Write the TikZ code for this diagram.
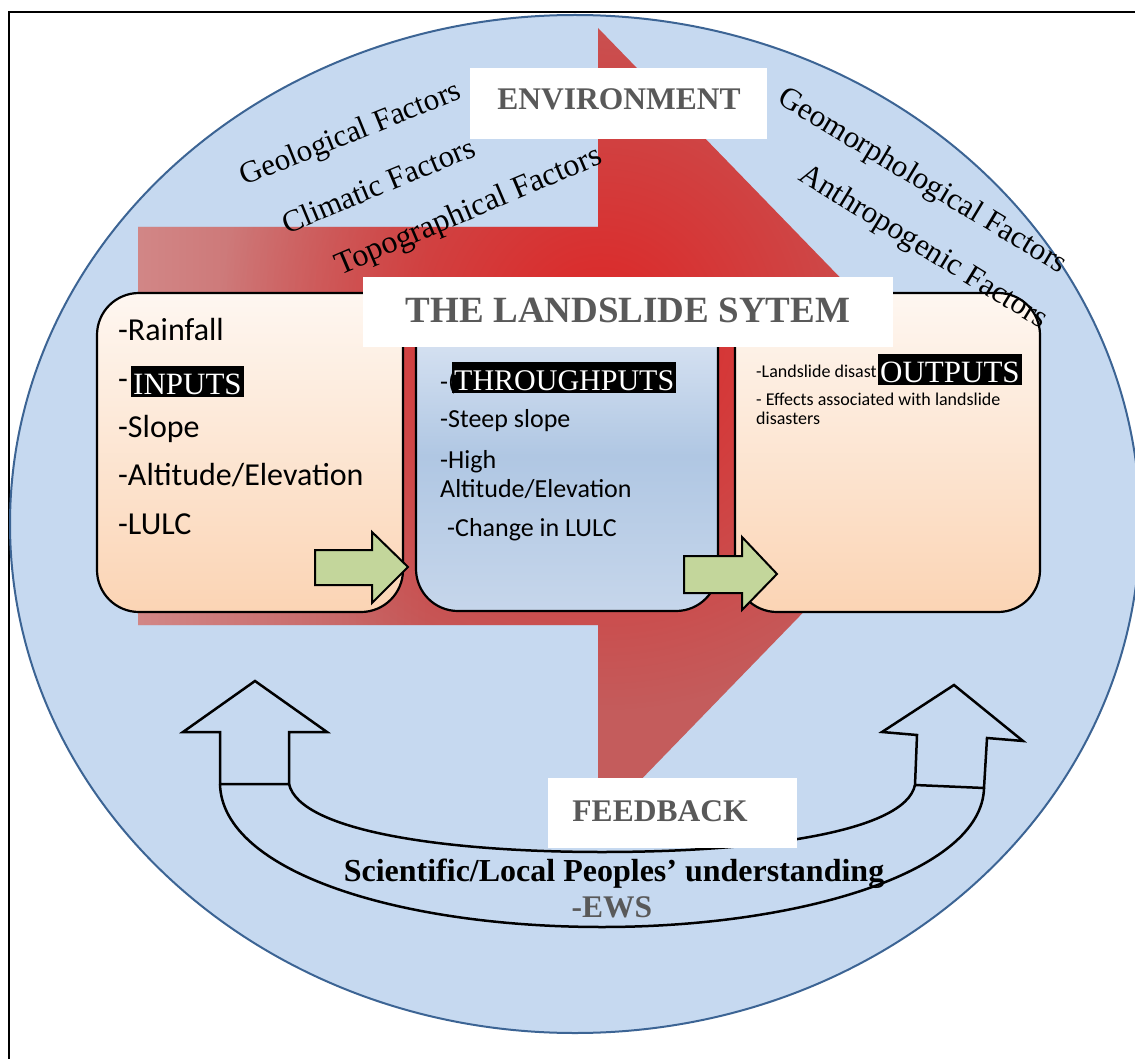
\documentclass[tikz,border=0pt]{standalone}
\usepackage{fontspec}
\setmainfont{Liberation Serif}
\newfontfamily\bodysans{Carlito}
\usetikzlibrary{fadings}

\definecolor{envblue}{RGB}{198,217,240}
\definecolor{envedge}{RGB}{60,100,148}
\definecolor{redbase}{RGB}{196,92,92}
\definecolor{redglow}{RGB}{222,38,38}
\definecolor{redpale}{RGB}{210,135,135}
\definecolor{headgray}{RGB}{89,89,89}
\definecolor{arrowgreen}{RGB}{195,214,155}
\definecolor{peachtop}{RGB}{254,247,241}
\definecolor{peachbot}{RGB}{251,212,180}
\definecolor{bluetop}{RGB}{226,234,246}
\definecolor{bluemid}{RGB}{176,199,227}
\definecolor{bluebot}{RGB}{198,214,235}

\tikzfading[name=fadeglow, inner color=transparent!0, outer color=transparent!100]
\tikzfading[name=fadetoright, left color=transparent!0, right color=transparent!100]

\tikzset{
  panel/.style={draw=black, line width=2.2pt, rounded corners=42pt, inner sep=0pt},
  whitebox/.style={fill=white, inner sep=0pt},
  heading/.style={font=\fontsize{31.5}{32}\selectfont\bfseries, text=headgray, inner sep=0pt},
  factor/.style={font=\fontsize{31}{31}\selectfont, inner sep=0pt},
  inbody/.style={font=\bodysans\fontsize{32}{32}\selectfont, inner sep=0pt, anchor=base west},
  midbody/.style={font=\bodysans\fontsize{26}{26}\selectfont, inner sep=0pt, anchor=base west},
  outbody/.style={font=\bodysans\fontsize{18}{18}\selectfont, inner sep=0pt, anchor=base west},
  tagbox/.style={fill=black, text=white, inner xsep=2pt, inner ysep=0pt,
                 text height=28pt, text depth=3pt, anchor=base west},
  greenarrow/.style={fill=arrowgreen, draw=black, line width=2pt, line join=miter},
  uparrow/.style={fill=envblue, draw=black, line width=2.5pt, line join=miter},
  loopline/.style={draw=black, line width=2.5pt}
}

\begin{document}
\begin{tikzpicture}[x=1pt,y=-1pt]
\useasboundingbox (0,0) rectangle (1135,1059);
\clip (0,0) rectangle (1135,1059);
\fill[white] (0,0) rectangle (1135,1059);

% outer frame
\draw[line width=2pt] (9,1070) -- (9,12) -- (1150,12);

% environment ellipse
\draw[fill=envblue, draw=envedge, line width=2pt] (575,524) ellipse [x radius=565, y radius=509];

% large system arrow
\def\systemarrow{(138,227) -- (598,227) -- (598,28) -- (984,426) -- (598,824) -- (598,625) -- (138,625) -- cycle}
\fill[redbase] \systemarrow;
\begin{scope}
  \clip \systemarrow;
  \fill[redpale, path fading=fadetoright] (138,227) rectangle (430,625);
  \fill[redglow, path fading=fadeglow] (600,330) circle (380);
\end{scope}

% the three stages
\node[panel, top color=peachtop, bottom color=peachbot, minimum width=306pt, minimum height=319pt] (inbox) at (250,452.5) {};
\node[panel, top color=bluetop, bottom color=bluebot, middle color=bluemid, minimum width=302pt, minimum height=311pt] (midbox) at (567,455.5) {};
\node[panel, top color=peachtop, bottom color=peachbot, minimum width=305pt, minimum height=319pt] (outbox) at (887.5,452.5) {};

% stage contents
\node[inbody] (rain) at (118,340) {-Rainfall};
\node[inbody] (indash) at (118,389) {-};
\node[tagbox, font=\fontsize{31}{31}\selectfont] (inputs) at (131,394) {INPUTS};
\node[inbody] (slope) at (118,437) {-Slope};
\node[inbody] (alt) at (118,485) {-Altitude/Elevation};
\node[inbody] (lulc) at (118,534) {-LULC};

\node[midbody] (middash) at (440,390) {-(};
\node[tagbox, font=\fontsize{30}{30}\selectfont] (throughputs) at (452,390) {THROUGHPUTS};
\node[midbody] (steep) at (440,427) {-Steep slope};
\node[midbody] (high) at (440,468) {-High};
\node[midbody] (alt2) at (440,497) {Altitude/Elevation};
\node[midbody] (lulc2) at (447,536) {-Change in LULC};

\node[outbody] (ldis) at (756,377) {-Landslide disast};
\node[tagbox, font=\fontsize{31}{31}\selectfont] (outputs) at (878,382) {OUTPUTS};
\node[outbody] (effects) at (756,405) {- Effects associated with landslide};
\node[outbody] (disasters) at (756,424) {disasters};

% flow arrows between stages
\draw[greenarrow] (315,550) -- (372,550) -- (372,532) -- (408,567) -- (372,603) -- (372,585) -- (315,585) -- cycle;
\draw[greenarrow] (684,556) -- (742,556) -- (742,537) -- (777,574) -- (742,610) -- (742,593) -- (684,593) -- cycle;

% title
\node[whitebox, minimum width=530pt, minimum height=70pt] (titlebox) at (628,312) {};
\node[heading, font=\fontsize{37}{37}\selectfont\bfseries] (title) at (628,310) {THE LANDSLIDE SYTEM};

\node[whitebox, minimum width=297pt, minimum height=71pt] (envbox) at (618.5,103.5) {};
\node[heading] (envtext) at (619,99) {ENVIRONMENT};

% environmental factors
\node[factor, rotate=22] (geo) at (351,135) {Geological Factors};
\node[factor, rotate=22.5] (clim) at (378,185) {Climatic Factors};
\node[factor, font=\fontsize{32}{32}\selectfont, rotate=23] (topo) at (469,212) {Topographical Factors};
\node[factor, rotate=-31] (geomorph) at (922,182) {Geomorphological Factors};
\node[factor, rotate=-31.5] (anthro) at (923,248) {Anthropogenic Factors};

% feedback loop
\draw[uparrow] (255,681) -- (327,732) -- (289,732) -- (289,784) -- (220,784) -- (220,732) -- (183,732) -- cycle;
\draw[uparrow] (954,685) -- (1023,741) -- (987,738) -- (984,788) -- (915,785) -- (917,735) -- (882,732) -- cycle;
\coordinate (lo) at (220,784);
\coordinate (li) at (289,784);
\coordinate (ro) at (984,788);
\coordinate (ri) at (915,785);
\draw[loopline] (lo) .. controls (222,872) and (400,927) .. (602,927) .. controls (800,927) and (982,872) .. (ro);
\draw[loopline] (li) .. controls (300,832) and (450,852) .. (602,852) .. controls (760,852) and (905,832) .. (ri);

\node[whitebox, minimum width=249pt, minimum height=70pt] (fbbox) at (672.5,813) {};
\node[heading] (fbtext) at (660,811) {FEEDBACK};

\node[font=\fontsize{32}{32}\selectfont\bfseries, inner sep=0pt, anchor=base] (understanding) at (614,881) {Scientific/Local Peoples’ understanding};
\node[heading, anchor=base] (ews) at (612,917) {-EWS};
\end{tikzpicture}
\end{document}
